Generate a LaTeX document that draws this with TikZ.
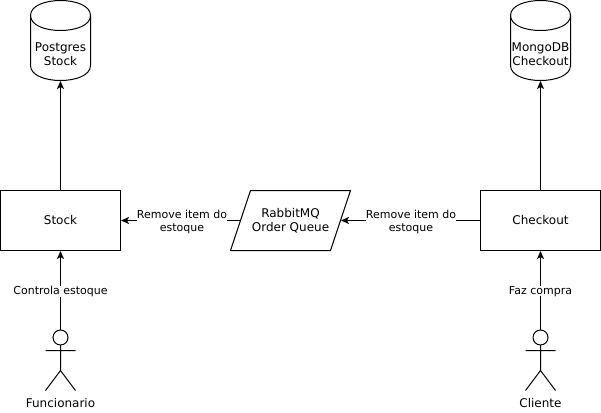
\documentclass[tikz,border=0pt]{standalone}
\usepackage{fontspec}
\setmainfont{DejaVu Sans}
\usetikzlibrary{arrows.meta,calc}
\tikzset{
  boxn/.style={draw,rectangle,minimum width=120pt,minimum height=60pt,inner sep=0,outer sep=0,font=\fontsize{12}{14}\selectfont,align=center},
  queue/.style={rectangle,minimum width=100pt,minimum height=60pt,inner sep=0,outer sep=0,font=\fontsize{12}{14}\selectfont,align=center},
  dbframe/.style={rectangle,minimum width=60pt,minimum height=80pt,inner sep=0,outer sep=0},
  dbtext/.style={inner sep=0,font=\fontsize{12}{14}\selectfont,align=center},
  head/.style={draw,circle,minimum size=15pt,inner sep=0,outer sep=0},
  actorlabel/.style={inner sep=0,font=\fontsize{12}{14}\selectfont},
  flow/.style={-{Stealth[length=8pt,width=7pt,inset=2pt]},shorten >=0.5pt},
  edgelabel/.style={fill=white,inner sep=0,font=\fontsize{11}{13}\selectfont,align=center},
  dbshape/.pic={
    \draw (-30,-25) .. controls (-30,-45) and (30,-45) .. (30,-25) -- (30,25)
      .. controls (30,45) and (-30,45) .. (-30,25) -- cycle;
    \draw (-30,-25) .. controls (-30,-5) and (30,-5) .. (30,-25);
  },
  actorbody/.pic={
    \draw (0,-5.5) -- (0,20) (-15,0) -- (15,0) (-15,40) -- (0,20) -- (15,40);
  }
}
\begin{document}
\begin{tikzpicture}[x=1pt,y=-1pt,line width=1pt]
\useasboundingbox (0,0) rectangle (601,412);
\pic at (60.5,40.5) {dbshape};
\pic at (540.5,40.5) {dbshape};
\node[dbframe] (pg) at (60.5,40.5) {};
\node[dbframe] (mongo) at (540.5,40.5) {};
\node[dbtext] (pgtext) at (60.5,54) {Postgres\\Stock};
\node[dbtext] (mongotext) at (540.5,54) {MongoDB\\Checkout};
\node[boxn] (stock) at (60.5,220.5) {Stock};
\node[boxn] (checkout) at (540.5,220.5) {Checkout};
\node[queue] (rabbit) at (290.5,220.5) {RabbitMQ\\Order Queue};
\draw ($(rabbit.north west)+(10,0)$) -- ($(rabbit.north east)+(10,0)$)
  -- ($(rabbit.south east)+(-10,0)$) -- ($(rabbit.south west)+(-10,0)$) -- cycle;
\node[head] (h1) at (60.5,337.5) {};
\node[head] (h2) at (540.5,337.5) {};
\pic at (60.5,350.5) {actorbody};
\pic at (540.5,350.5) {actorbody};
\node[actorlabel] (fun) at (60.5,403) {Funcionario};
\node[actorlabel] (cli) at (540.5,403) {Cliente};
\draw[flow] (stock) -- (pg);
\draw[flow] (checkout) -- (mongo);
\draw[flow] (h1) -- node[edgelabel,yshift=-1pt] {Controla estoque} (stock);
\draw[flow] (h2) -- node[edgelabel,yshift=-1pt] {Faz compra} (checkout);
\draw[flow] (rabbit) -- node[edgelabel,xshift=1.5pt,yshift=-1pt] {Remove item do\\estoque} (stock);
\draw[flow] (checkout) -- node[edgelabel,xshift=0.5pt,yshift=-1pt] {Remove item do\\estoque} (rabbit);
\end{tikzpicture}
\end{document}
